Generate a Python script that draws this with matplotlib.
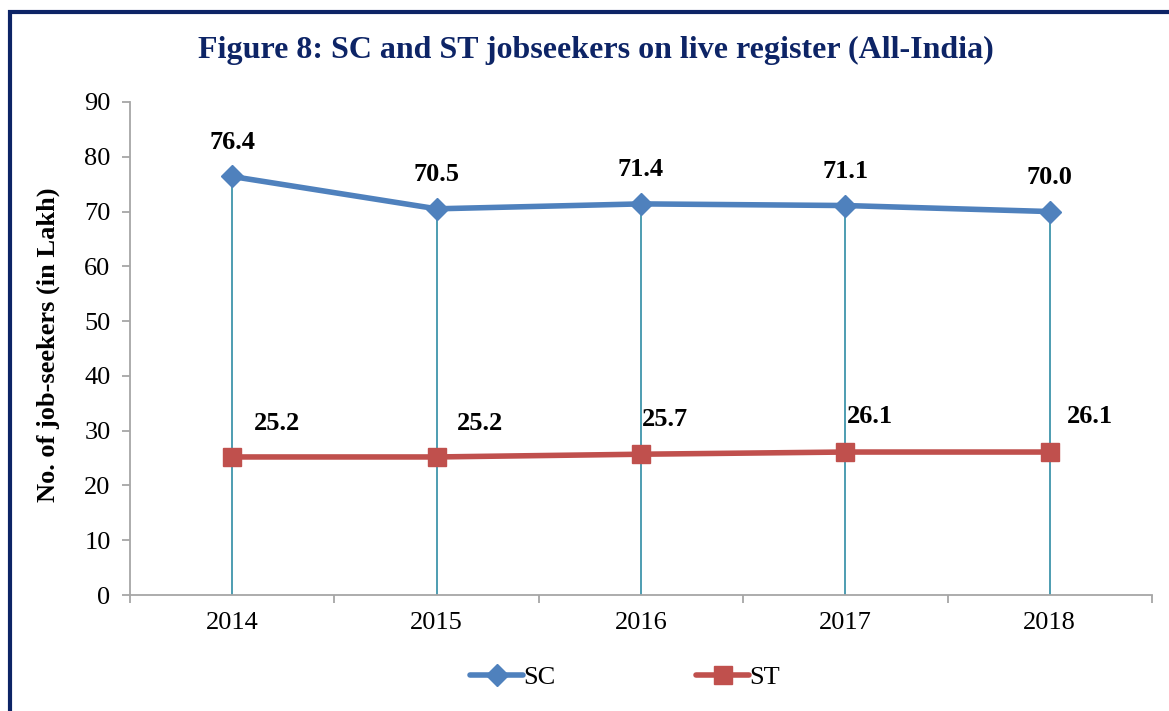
import matplotlib
matplotlib.use("Agg")
import matplotlib.pyplot as plt
from matplotlib.patches import Rectangle
from matplotlib.ticker import FixedLocator

years = ["2014", "2015", "2016", "2017", "2018"]
sc_values = [76.4, 70.5, 71.4, 71.1, 70.0]
st_values = [25.2, 25.2, 25.7, 26.1, 26.1]
sc_labels = ["76.4", "70.5", "71.4", "71.1", "70.0"]
st_labels = ["25.2", "25.2", "25.7", "26.1", "26.1"]
yticks = [0, 10, 20, 30, 40, 50, 60, 70, 80, 90]

plt.rcParams['font.family'] = ['Liberation Serif', 'DejaVu Serif']

fig = plt.figure(figsize=(11.69, 7.11), dpi=100)
ax = fig.add_axes([130/1169, 1-595/711, (1152-130)/1169, (595-102)/711])

x = list(range(len(years)))
navy = '#0D2466'
sc_col = '#4F81BD'
st_col = '#C0504D'
drop_col = '#3F95AB'
axis_col = '#A6A6A6'

# drop lines
ax.vlines(x, 0, sc_values, colors=drop_col, linewidth=1.3, zorder=2)

ax.plot(x, sc_values, color=sc_col, linewidth=4, marker='D', markersize=11,
        markeredgecolor=sc_col, label='SC', zorder=3, solid_capstyle='round')
ax.plot(x, st_values, color=st_col, linewidth=4, marker='s', markersize=13,
        markeredgecolor=st_col, label='ST', zorder=3, solid_capstyle='round')

for xi, v, t in zip(x, sc_values, sc_labels):
    ax.annotate(t, (xi, v), xytext=(0, 16.5), textcoords='offset points',
                ha='center', va='bottom', fontsize=19, fontweight='bold')
st_dx = [32, 31, 17, 18, 29]
st_dy = [16, 16, 17, 17, 17]
for xi, v, t, dx, dy in zip(x, st_values, st_labels, st_dx, st_dy):
    ax.annotate(t, (xi, v), xytext=(dx, dy), textcoords='offset points',
                ha='center', va='bottom', fontsize=19, fontweight='bold')

ax.set_xlim(-0.5, len(years) - 0.5)
ax.set_ylim(0, 90)
ax.set_yticks(yticks)
ax.set_yticklabels([str(v) for v in yticks], fontsize=19)
ax.set_xticks(x)
ax.set_xticklabels(years, fontsize=19)
ax.xaxis.set_minor_locator(FixedLocator([i - 0.5 for i in range(len(years) + 1)]))
ax.tick_params(axis='x', which='major', length=0, pad=12)
ax.tick_params(axis='x', which='minor', length=6, color=axis_col, width=1.3, direction='out')
ax.tick_params(axis='y', length=6, color=axis_col, width=1.3, pad=8)

for s in ['top', 'right']:
    ax.spines[s].set_visible(False)
for s in ['left', 'bottom']:
    ax.spines[s].set_color(axis_col)
    ax.spines[s].set_linewidth(1.3)

ax.set_ylabel('No. of job-seekers (in Lakh)', fontsize=19, fontweight='bold')
ax.yaxis.set_label_coords(-70/1022, (595-345)/493)

fig.text(596/1169, 1-50/711, 'Figure 8: SC and ST jobseekers on live register (All-India)',
         ha='center', va='center', fontsize=23, fontweight='bold', color=navy)

leg = fig.legend(loc='center', bbox_to_anchor=(625/1169, 1-677/711), ncol=2,
                 frameon=False, fontsize=19, handlelength=2.0, handletextpad=0.0,
                 columnspacing=5.35)

# frame border
fig.patches.append(Rectangle((10/1169, -0.05), 1.2, 1-12/711+0.05, transform=fig.transFigure,
                             fill=False, edgecolor=navy, linewidth=3, zorder=10))

fig.savefig('out.png', dpi=100)
